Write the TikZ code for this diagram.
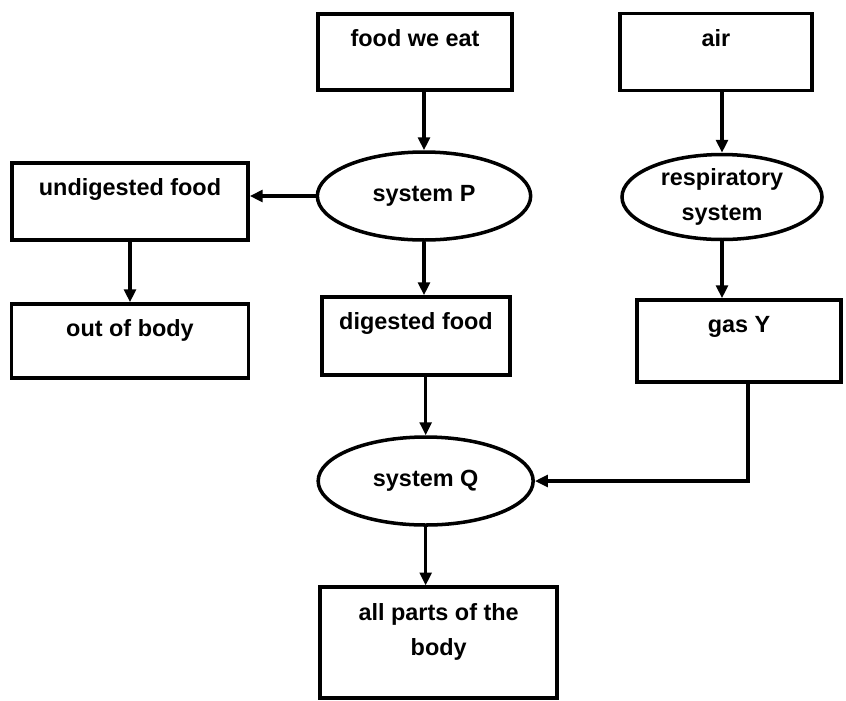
\documentclass[tikz,border=0pt]{standalone}
\usepackage{fontspec}
\setmainfont{Liberation Sans}
\usepackage{tikz}
\usetikzlibrary{shapes.geometric}
\usetikzlibrary{calc}
\usetikzlibrary{positioning, arrows.meta, shapes}
\usepackage{xcolor}

\begin{document}
\begin{tikzpicture}[node distance=3cm, auto,
  box/.style={draw, rectangle, line width=3pt, inner xsep=0pt, inner ysep=0pt,
    text height=0.98cm, align=center, font=\fontsize{20}{30}\selectfont\bfseries},
  process/.style={draw, ellipse, line width=3pt, inner sep=0pt,
    minimum width=6.4cm, minimum height=2.64cm, align=center,
    font=\fontsize{20}{30}\selectfont\bfseries},
  flow/.style={line width=3pt, -{Triangle[length=11pt, width=10pt]}}]
  \useasboundingbox (0,0) rectangle (25.38,-21);

  % Food
  \node[box, minimum width=5.82cm, text depth=1.30cm] (food) at (12.45,-1.56) {food we eat};

  % Air
  \node[box, minimum width=5.76cm, text depth=1.33cm, right of=food, xshift=6.03cm] (air) {air};

  % System P
  \node[process, below of=food, yshift=-1.32cm, xshift=0.27cm] (sysP) {system P};

  % Respiratory system
  \node[process, minimum width=6.0cm, minimum height=2.55cm, below of=air, yshift=-1.35cm, xshift=0.18cm] (resp) {respiratory\\system};

  % Undigested food
  \node[box, minimum width=7.08cm, text depth=1.33cm, left of=sysP, xshift=-5.82cm, yshift=-0.17cm] (undig) {undigested food};

  % Out of body
  \node[box, minimum width=7.11cm, text depth=1.24cm, below of=undig, yshift=-1.18cm] (out) {out of body};

  % Digested food
  \node[box, minimum width=5.64cm, text depth=1.36cm, below of=sysP, yshift=-1.2cm, xshift=-0.24cm] (digest) {digested food};

  % Gas Y
  \node[box, minimum width=6.12cm, text depth=1.48cm, below of=resp, yshift=-1.32cm, xshift=0.51cm] (gasY) {gas Y};

  % System Q
  \node[process, minimum width=6.45cm, below of=digest, yshift=-1.35cm, xshift=0.29cm] (sysQ) {system Q};

  % All parts of the body
  \node[box, minimum width=7.11cm, text height=2.04cm, text depth=1.29cm, below of=sysQ, yshift=-1.85cm, xshift=0.39cm] (parts) {all parts of the\\body};

  % Relationships
  \draw[flow] (food.south -| sysP) -- (sysP.north);
  \draw[flow] (air.south -| resp) -- (resp.north);
  \draw[flow] (sysP.west) -- (sysP.west -| undig.east);
  \draw[flow] (undig.south) -- (out.north);
  \draw[flow] (sysP.south) -- (sysP.south |- digest.north);
  \draw[flow] (resp.south) -- (resp.south |- gasY.north);
  \draw[flow] (digest.south -| sysQ) -- (sysQ.north);
  \draw[flow] ([xshift=0.27cm]gasY.south) |- (sysQ.east);
  \draw[flow] (sysQ.south) -- (sysQ.south |- parts.north);
\end{tikzpicture}
\end{document}
